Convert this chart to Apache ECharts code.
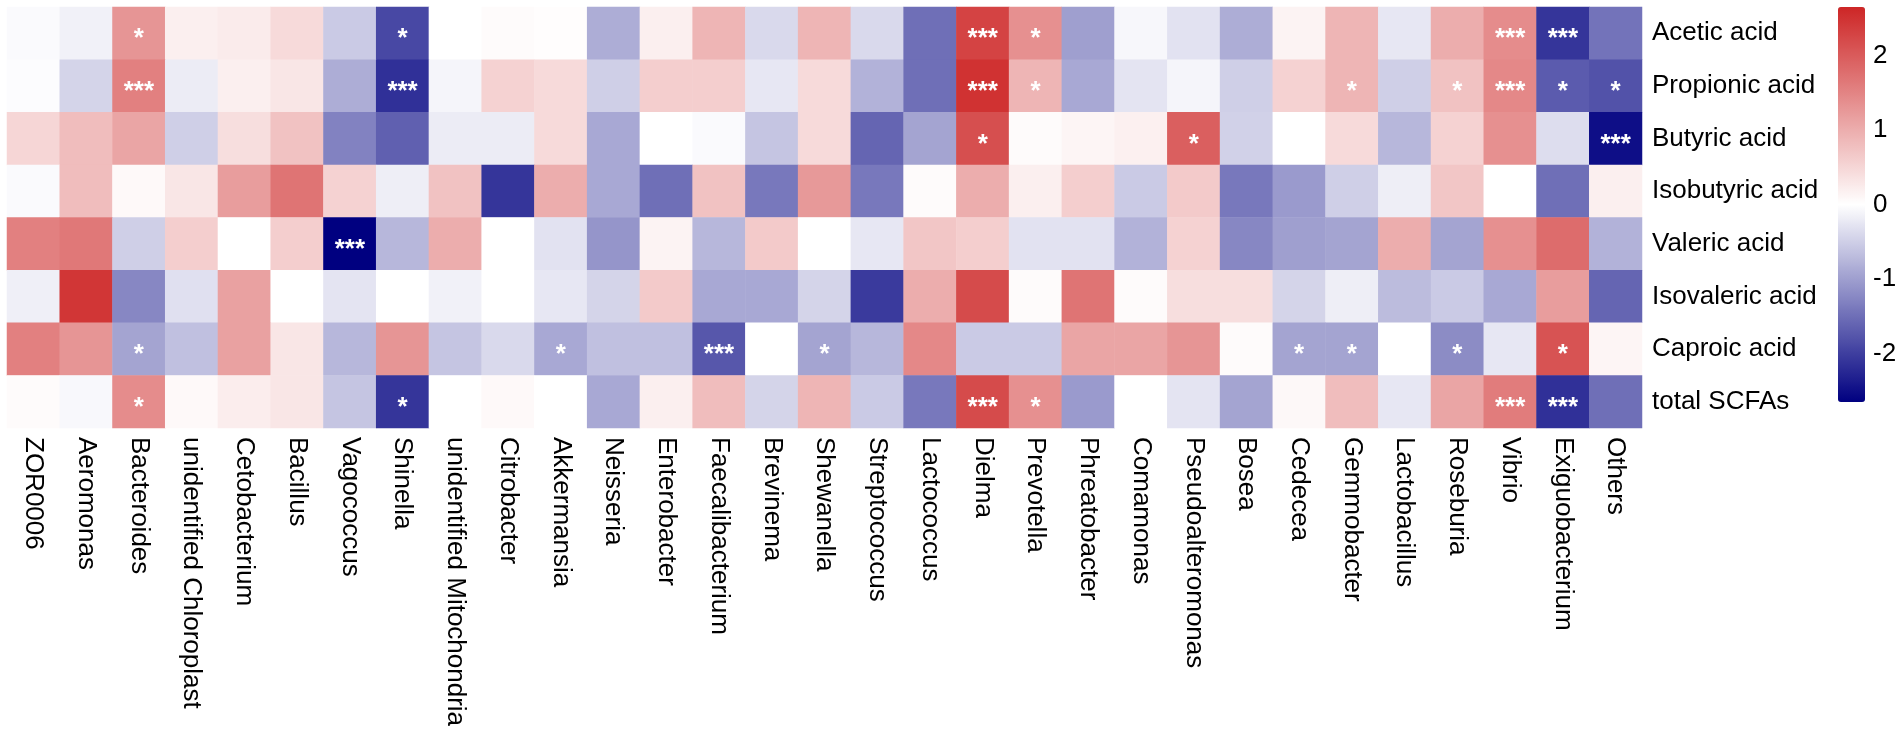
<!DOCTYPE html>
<html>
<head>
<meta charset="UTF-8">
<title>SCFA correlation heatmap</title>
<script src="https://cdn.jsdelivr.net/npm/echarts@6/dist/echarts.min.js"></script>
<style>
    body { margin: 0; padding: 0; background: #fff; }
    #main { width: 1902px; height: 736px; }
</style>
</head>
<body>
<div id="main"></div>
<script>
// genera (columns) and acids (rows)
var genera = ['ZOR0006', 'Aeromonas', 'Bacteroides', 'unidentified Chloroplast', 'Cetobacterium', 'Bacillus',
    'Vagococcus', 'Shinella', 'unidentified Mitochondria', 'Citrobacter', 'Akkermansia', 'Neisseria',
    'Enterobacter', 'Faecalibacterium', 'Brevinema', 'Shewanella', 'Streptococcus', 'Lactococcus', 'Dielma',
    'Prevotella', 'Phreatobacter', 'Comamonas', 'Pseudoalteromonas', 'Bosea', 'Cedecea', 'Gemmobacter',
    'Lactobacillus', 'Roseburia', 'Vibrio', 'Exiguobacterium', 'Others'];
var acids = ['Acetic acid', 'Propionic acid', 'Butyric acid', 'Isobutyric acid', 'Valeric acid',
    'Isovaleric acid', 'Caproic acid', 'total SCFAs'];

// one array per row, values in genera order
var acetic = [-0.05, -0.15, 1.3, 0.2, 0.25, 0.45, -0.55, -1.9, 0.0, 0.05, 0.02, -0.85, 0.2, 0.9, -0.4, 0.9,
    -0.4, -1.5, 2.3, 1.35, -1.0, -0.08, -0.3, -0.85, 0.15, 0.9, -0.25, 1.0, 1.4, -2.1, -1.45];
var propionic = [-0.03, -0.45, 1.55, -0.2, 0.2, 0.3, -0.85, -2.15, -0.1, 0.55, 0.45, -0.5, 0.6, 0.6, -0.25, 0.45,
    -0.8, -1.5, 2.5, 0.9, -0.9, -0.28, -0.1, -0.5, 0.55, 0.9, -0.5, 0.75, 1.45, -1.7, -1.8];
var butyric = [0.5, 0.8, 1.1, -0.5, 0.4, 0.75, -1.3, -1.65, -0.2, -0.2, 0.45, -0.9, 0.0, -0.05, -0.6, 0.45,
    -1.6, -0.95, 2.15, 0.05, 0.12, 0.18, 1.95, -0.48, 0.0, 0.45, -0.75, 0.55, 1.35, -0.35, -2.5];
var isobutyric = [-0.05, 0.8, 0.07, 0.3, 1.2, 1.7, 0.55, -0.18, 0.75, -2.1, 1.0, -0.9, -1.5, 0.75, -1.4, 1.25,
    -1.4, 0.05, 1.0, 0.2, 0.6, -0.55, 0.65, -1.4, -1.05, -0.5, -0.18, 0.7, 0.0, -1.5, 0.2];
var valeric = [1.55, 1.65, -0.5, 0.6, 0.0, 0.6, -2.65, -0.75, 1.0, 0.0, -0.3, -1.1, 0.15, -0.75, 0.65, 0.0,
    -0.25, 0.7, 0.6, -0.3, -0.3, -0.8, 0.55, -1.25, -1.0, -0.95, 1.0, -0.95, 1.35, 1.8, -0.8];
var isovaleric = [-0.17, 2.45, -1.25, -0.32, 1.15, 0.0, -0.28, 0.0, -0.15, 0.0, -0.25, -0.45, 0.65, -0.9, -0.9, -0.45,
    -2.05, 1.0, 2.2, 0.05, 1.7, 0.05, 0.4, 0.4, -0.45, -0.18, -0.7, -0.55, -0.9, 1.2, -1.6];
var caproic = [1.55, 1.3, -0.95, -0.65, 1.15, 0.3, -0.75, 1.3, -0.6, -0.4, -0.9, -0.65, -0.65, -1.75, 0.0, -0.95,
    -0.75, 1.45, -0.55, -0.55, 1.1, 1.1, 1.3, 0.05, -0.95, -0.95, 0.0, -1.2, -0.25, 2.1, 0.12];
var totalScfa = [0.05, -0.07, 1.4, 0.07, 0.22, 0.3, -0.6, -2.1, 0.0, 0.07, 0.0, -0.9, 0.2, 0.8, -0.45, 0.9,
    -0.55, -1.4, 2.2, 1.35, -1.05, 0.0, -0.28, -0.95, 0.08, 0.8, -0.25, 1.1, 1.6, -2.15, -1.5];

// significance marks: [column, row, mark]
var sigMarks = [
    [2, 0, '*'], [7, 0, '*'], [18, 0, '***'], [19, 0, '*'], [28, 0, '***'], [29, 0, '***'],
    [2, 1, '***'], [7, 1, '***'], [18, 1, '***'], [19, 1, '*'], [25, 1, '*'], [27, 1, '*'], [28, 1, '***'], [29, 1, '*'], [30, 1, '*'],
    [18, 2, '*'], [22, 2, '*'], [30, 2, '***'],
    [6, 4, '***'],
    [2, 6, '*'], [10, 6, '*'], [13, 6, '***'], [15, 6, '*'], [24, 6, '*'], [25, 6, '*'], [27, 6, '*'], [29, 6, '*'],
    [2, 7, '*'], [7, 7, '*'], [18, 7, '***'], [19, 7, '*'], [28, 7, '***'], [29, 7, '***']
];

var legendTicks = [-2, -1, 0, 1, 2];
var colorMin = -2.65, colorMax = 2.65;

var rows = [acetic, propionic, butyric, isobutyric, valeric, isovaleric, caproic, totalScfa];
var marks = {};
sigMarks.forEach(function (m) { marks[m[0] + '_' + m[1]] = m[2]; });

var cells = [];
rows.forEach(function (vals, r) {
    vals.forEach(function (v, c) { cells.push([c, r, v]); });
});

var font = 'Liberation Sans, Arial, Helvetica, sans-serif';
var chart = echarts.init(document.getElementById('main'));

chart.setOption({
    backgroundColor: '#ffffff',
    animation: false,
    grid: [
        { left: 7, top: 7, width: 1635, height: 421 },
        { left: 1838, top: 7, width: 27, height: 395 }
    ],
    xAxis: [{
        type: 'category',
        gridIndex: 0,
        data: genera,
        axisLine: { show: false },
        axisTick: { show: false },
        splitLine: { show: false },
        axisLabel: { interval: 0, rotate: -90, margin: 9, fontSize: 26, color: '#000', fontFamily: font }
    }, {
        type: 'value',
        gridIndex: 1,
        show: false
    }],
    yAxis: [{
        type: 'category',
        gridIndex: 0,
        data: acids,
        inverse: true,
        position: 'right',
        axisLine: { show: false },
        axisTick: { show: false },
        splitLine: { show: false },
        axisLabel: { margin: 10, fontSize: 26, color: '#000', fontFamily: font }
    }, {
        type: 'value',
        gridIndex: 1,
        min: colorMin,
        max: colorMax,
        position: 'right',
        axisLine: { show: false },
        axisTick: { show: false },
        splitLine: { show: false },
        axisLabel: { customValues: legendTicks, margin: 8, fontSize: 26, color: '#000', fontFamily: font }
    }],
    visualMap: {
        type: 'continuous',
        seriesIndex: 0,
        min: colorMin,
        max: colorMax,
        calculable: false,
        orient: 'vertical',
        left: 1838,
        top: 7,
        padding: 0,
        itemWidth: 27,
        itemHeight: 395,
        text: null,
        showLabel: false,
        inRange: { color: ['#000080', '#ffffff', '#cd2626'] }
    },
    series: [{
        type: 'heatmap',
        xAxisIndex: 0,
        yAxisIndex: 0,
        data: cells,
        itemStyle: { borderWidth: 0 },
        label: {
            show: true,
            color: '#ffffff',
            fontSize: 26,
            fontWeight: 'bold',
            fontFamily: font,
            offset: [0, 6],
            formatter: function (p) {
                return marks[p.data[0] + '_' + p.data[1]] || '';
            }
        },
        emphasis: { disabled: true }
    }, {
        type: 'line',
        xAxisIndex: 1,
        yAxisIndex: 1,
        data: [],
        silent: true
    }]
});
</script>
</body>
</html>
